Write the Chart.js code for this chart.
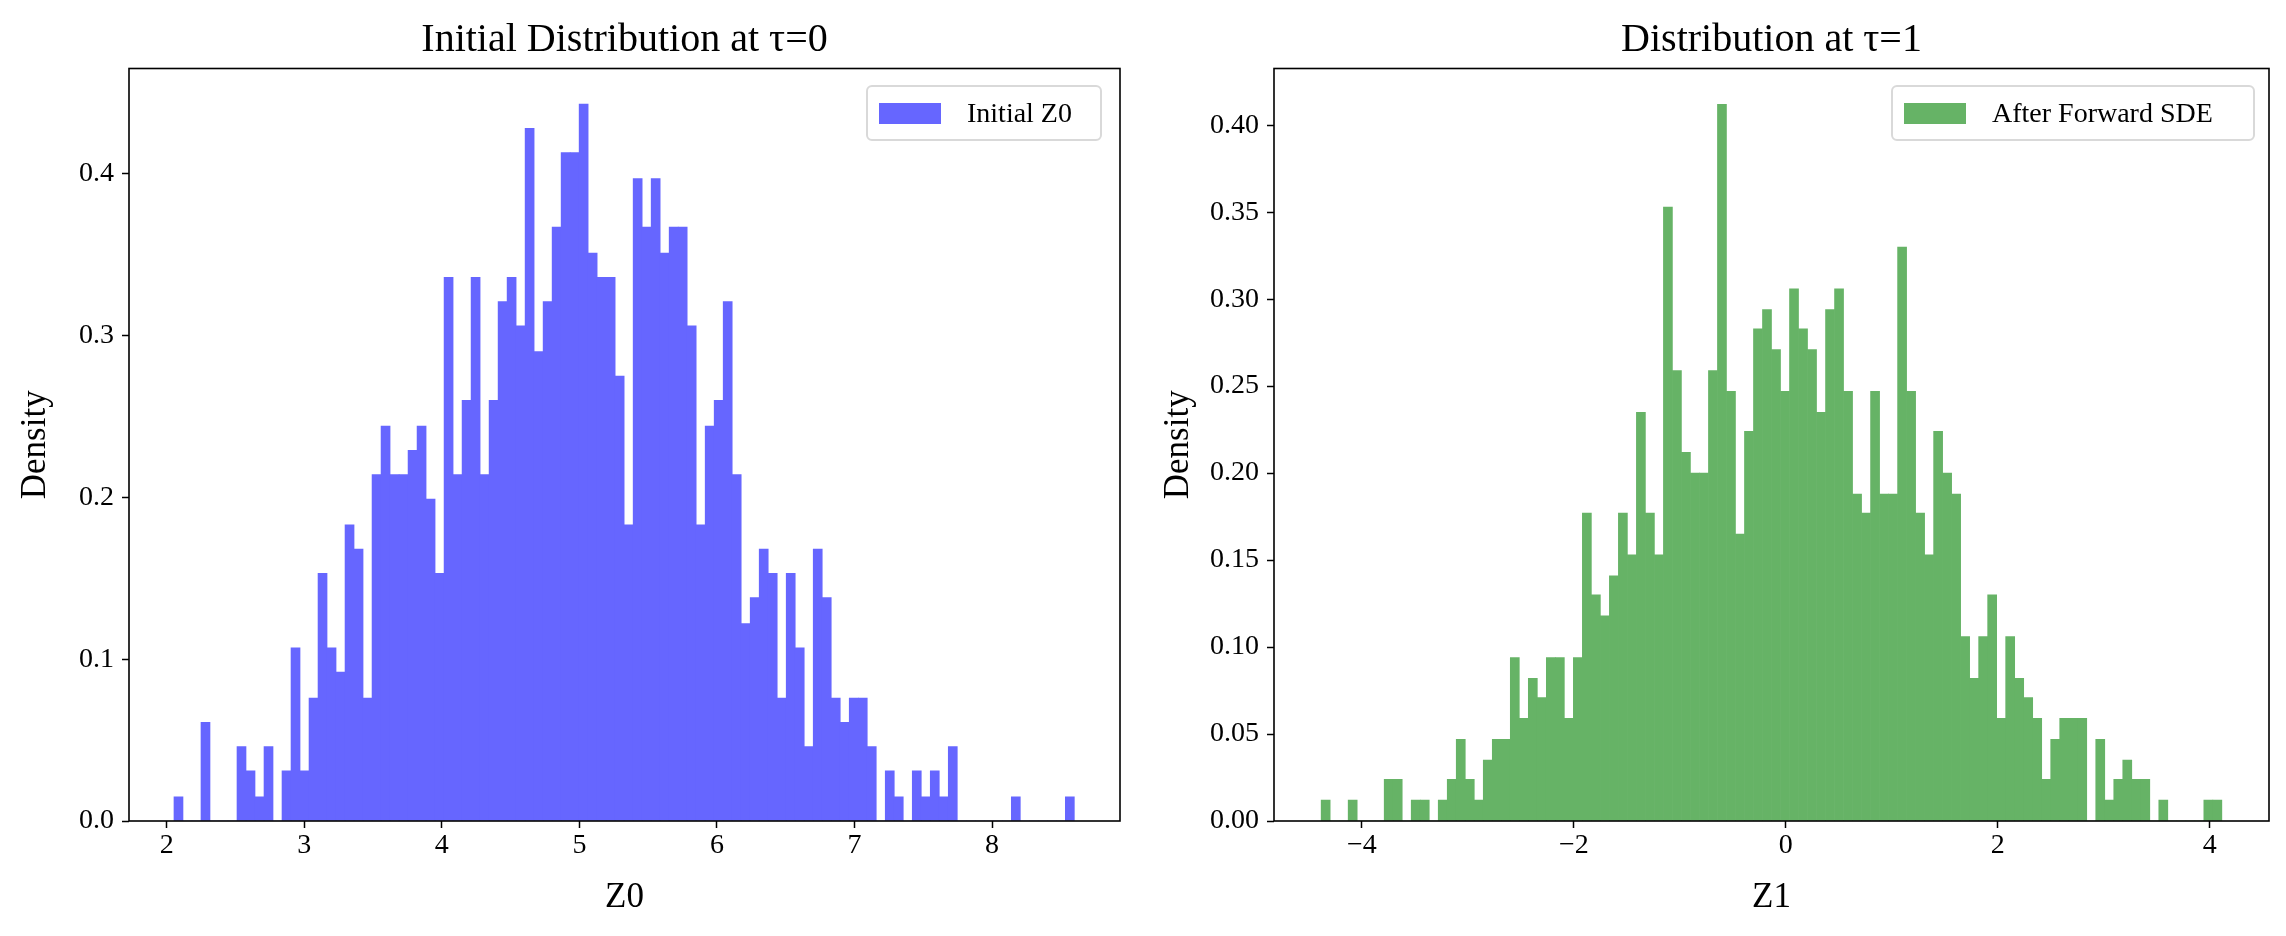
<!DOCTYPE html>
<html>
<head>
<meta charset="utf-8">
<script src="https://cdn.jsdelivr.net/npm/chart.js@4.4.0/dist/chart.umd.min.js"></script>
<style>
  html, body { margin: 0; padding: 0; background: #fff; }
  .panel { position: absolute; top: 0; width: 1143px; height: 936px; }
  .legend {
    position: absolute; box-sizing: border-box; height: 56px;
    border: 2px solid #d9d9d9; border-radius: 6px; background: rgba(255,255,255,0.8);
    font-family: "Liberation Serif", serif; font-size: 28px; color: #000;
    display: flex; align-items: center; white-space: nowrap;
  }
  .legend .swatch { display: inline-block; width: 62px; height: 21px; margin: 0 26px 0 11px; }
</style>
</head>
<body>
<div class="panel" style="left:0"><canvas id="leftChart"></canvas></div>
<div class="panel" style="left:1143px"><canvas id="rightChart"></canvas></div>
<div class="legend" style="left:866px;top:85px;width:236px"><span class="swatch" style="background:#6666ff"></span>Initial Z0</div>
<div class="legend" style="left:1891px;top:85px;width:364px"><span class="swatch" style="background:#66b366"></span>After Forward SDE</div>

<script>
// histogram bins (100 each), densities
var leftBinStart = 2.053;
var leftBinWidth = 0.06545;
var leftDensity = [
  0.015, 0, 0, 0.061, 0, 0, 0, 0.046, 0.031, 0.015,
  0.046, 0, 0.031, 0.107, 0.031, 0.076, 0.153, 0.107, 0.092, 0.183,
  0.168, 0.076, 0.214, 0.244, 0.214, 0.214, 0.229, 0.244, 0.199, 0.153,
  0.336, 0.214, 0.260, 0.336, 0.214, 0.260, 0.321, 0.336, 0.306, 0.428,
  0.290, 0.321, 0.367, 0.413, 0.413, 0.443, 0.351, 0.336, 0.336, 0.275,
  0.183, 0.397, 0.367, 0.397, 0.351, 0.367, 0.367, 0.306, 0.183, 0.244,
  0.260, 0.321, 0.214, 0.122, 0.138, 0.168, 0.153, 0.076, 0.153, 0.107,
  0.046, 0.168, 0.138, 0.076, 0.061, 0.076, 0.076, 0.046, 0, 0.031,
  0.015, 0, 0.031, 0.015, 0.031, 0.015, 0.046, 0, 0, 0,
  0, 0, 0, 0.015, 0, 0, 0, 0, 0, 0.015
];

var rightBinStart = -4.385;
var rightBinWidth = 0.0850;
var rightDensity = [
  0.012, 0, 0, 0.012, 0, 0, 0, 0.024, 0.024, 0,
  0.012, 0.012, 0, 0.012, 0.024, 0.047, 0.024, 0.012, 0.035, 0.047,
  0.047, 0.094, 0.059, 0.082, 0.071, 0.094, 0.094, 0.059, 0.094, 0.177,
  0.130, 0.118, 0.141, 0.177, 0.153, 0.235, 0.177, 0.153, 0.353, 0.259,
  0.212, 0.200, 0.200, 0.259, 0.412, 0.247, 0.165, 0.224, 0.283, 0.294,
  0.271, 0.247, 0.306, 0.283, 0.271, 0.235, 0.294, 0.306, 0.247, 0.188,
  0.177, 0.247, 0.188, 0.188, 0.330, 0.247, 0.177, 0.153, 0.224, 0.200,
  0.188, 0.106, 0.082, 0.106, 0.130, 0.059, 0.106, 0.082, 0.071, 0.059,
  0.024, 0.047, 0.059, 0.059, 0.059, 0, 0.047, 0.012, 0.024, 0.035,
  0.024, 0.024, 0, 0.012, 0, 0, 0, 0, 0.012, 0.012
];

var leftXTicks = [2, 3, 4, 5, 6, 7, 8];
var leftXLabels = ['2', '3', '4', '5', '6', '7', '8'];
var leftYTicks = [0, 0.1, 0.2, 0.3, 0.4];
var leftYLabels = ['0.0', '0.1', '0.2', '0.3', '0.4'];

var rightXTicks = [-4, -2, 0, 2, 4];
var rightXLabels = ['\u22124', '\u22122', '0', '2', '4'];
var rightYTicks = [0, 0.05, 0.10, 0.15, 0.20, 0.25, 0.30, 0.35, 0.40];
var rightYLabels = ['0.00', '0.05', '0.10', '0.15', '0.20', '0.25', '0.30', '0.35', '0.40'];

Chart.defaults.font.family = '"Liberation Serif", serif';
Chart.defaults.color = '#000';

// black box around the plot area
var frame = {
  id: 'frame',
  afterDraw: function(chart) {
    var a = chart.chartArea, ctx = chart.ctx;
    ctx.save();
    ctx.strokeStyle = '#000';
    ctx.lineWidth = 1.6;
    ctx.strokeRect(a.left, a.top, a.right - a.left, a.bottom - a.top);
    ctx.restore();
  }
};

function binPoints(start, width, dens) {
  return dens.map(function(d, i) { return { x: start + (i + 0.5) * width, y: d }; });
}

function histogram(id, o) {
  var tickGrid = { display: true, drawOnChartArea: false, drawTicks: true, tickLength: 7,
                   tickColor: '#000', tickWidth: 1.5, offset: false };
  return new Chart(document.getElementById(id), {
    type: 'bar',
    data: {
      datasets: [{
        label: o.label,
        data: binPoints(o.start, o.width, o.density),
        backgroundColor: o.color,
        borderWidth: 0,
        barPercentage: 1.0,
        categoryPercentage: 1.0,
        grouped: false
      }]
    },
    options: {
      responsive: true,
      maintainAspectRatio: false,
      animation: false,
      events: [],
      layout: { padding: { left: 0, right: o.padRight, top: 0, bottom: 0 } },
      plugins: {
        legend: { display: false },
        tooltip: { enabled: false },
        title: {
          display: true, text: o.title, fullSize: false,
          font: { size: 40, weight: 'normal' }, color: '#000',
          padding: { top: 16, bottom: 4.5 }
        }
      },
      scales: {
        x: {
          type: 'linear', min: o.xmin, max: o.xmax, offset: false,
          grid: tickGrid, border: { display: false },
          afterBuildTicks: function(s) { s.ticks = o.xTicks.map(function(v) { return { value: v }; }); },
          afterFit: function(s) { s.height = 115; },
          ticks: { font: { size: 28 }, padding: 1, maxRotation: 0,
                   callback: function(v, i) { return o.xLabels[i]; } },
          title: { display: true, text: o.xTitle, font: { size: 35 }, padding: { top: 0, bottom: 17 } }
        },
        y: {
          min: 0, max: o.ymax,
          grid: tickGrid, border: { display: false },
          afterBuildTicks: function(s) { s.ticks = o.yTicks.map(function(v) { return { value: v }; }); },
          afterFit: function(s) { s.width = o.yWidth; },
          ticks: { font: { size: 28 }, padding: 8,
                   callback: function(v, i) { return o.yLabels[i]; } },
          title: { display: true, text: 'Density', font: { size: 35 }, padding: { top: 15, bottom: 0 } }
        }
      }
    },
    plugins: [frame]
  });
}

histogram('leftChart', {
  label: 'Initial Z0', title: 'Initial Distribution at \u03c4=0', xTitle: 'Z0',
  start: leftBinStart, width: leftBinWidth, density: leftDensity, color: '#6666ff',
  xmin: 1.726, xmax: 8.93, ymax: 0.465,
  xTicks: leftXTicks, xLabels: leftXLabels, yTicks: leftYTicks, yLabels: leftYLabels,
  yWidth: 129, padRight: 23
});

histogram('rightChart', {
  label: 'After Forward SDE', title: 'Distribution at \u03c4=1', xTitle: 'Z1',
  start: rightBinStart, width: rightBinWidth, density: rightDensity, color: '#66b366',
  xmin: -4.83, xmax: 4.56, ymax: 0.4326,
  xTicks: rightXTicks, xLabels: rightXLabels, yTicks: rightYTicks, yLabels: rightYLabels,
  yWidth: 131, padRight: 17
});
</script>
</body>
</html>
